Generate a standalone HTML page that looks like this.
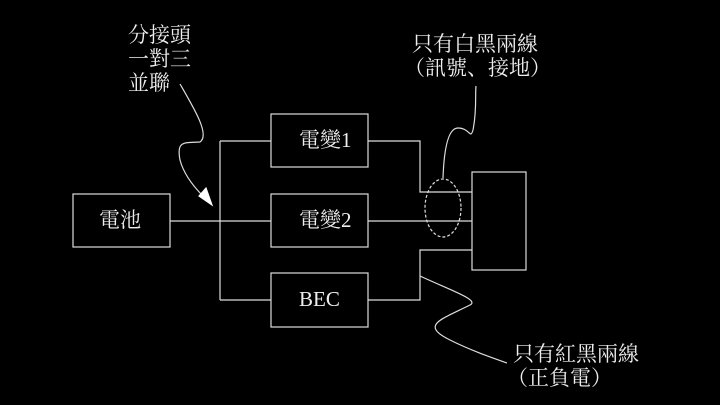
<!DOCTYPE html>
<html><head><meta charset="utf-8"><style>
body{margin:0;background:#000;width:720px;height:405px;overflow:hidden;position:relative}
.t{position:absolute;color:#eee;font-family:"Liberation Serif","Noto Serif CJK SC","Noto Serif CJK TC",serif;font-size:21px;line-height:24px;white-space:nowrap}
</style></head><body>
<svg width="720" height="405" style="position:absolute;left:0;top:0" fill="none" stroke="#ddd" stroke-width="1.2">
<rect x="73" y="194" width="97" height="53"/>
<rect x="271" y="114" width="97" height="53"/>
<rect x="271" y="194" width="97" height="53"/>
<rect x="271" y="273" width="97" height="54"/>
<rect x="472" y="172" width="54" height="98"/>
<path d="M170 221H271M220 141V300M220 141H271M220 300H271"/>
<path d="M368 141H420V192H472M368 221H472M368 300H420V250H472"/>
<ellipse cx="443" cy="208" rx="18" ry="29" stroke-dasharray="3,2"/>
<path d="M443 178C444 150 448 128 458 128C470 128 470 140 473 130C477 110 475 95 476 86"/>
<path d="M420 276C450 290 480 300 470 305C440 320 420 325 450 340C470 350 490 357 507 363"/>
<path d="M180 84C195 110 210 135 200 142C185 143 176 140 180 160C184 175 195 188 203 196"/>
<polygon points="212,205 199,196 206,188" fill="#fff" stroke="#fff"/>
</svg>
<div class="t" style="left:99px;top:208px">電池</div>
<div class="t" style="left:299px;top:128px">電變1</div>
<div class="t" style="left:299px;top:208px">電變2</div>
<div class="t" style="left:299px;top:287px">BEC</div>
<div class="t" style="left:128px;top:23px">分接頭<br>一對三<br>並聯</div>
<div class="t" style="left:412px;top:32px">只有白黑兩線<br><span style="margin-left:-8px">（訊號、接地）</span></div>
<div class="t" style="left:513px;top:342px">只有紅黑兩線<br><span style="margin-left:-6px">（正負電）</span></div>
</body></html>
